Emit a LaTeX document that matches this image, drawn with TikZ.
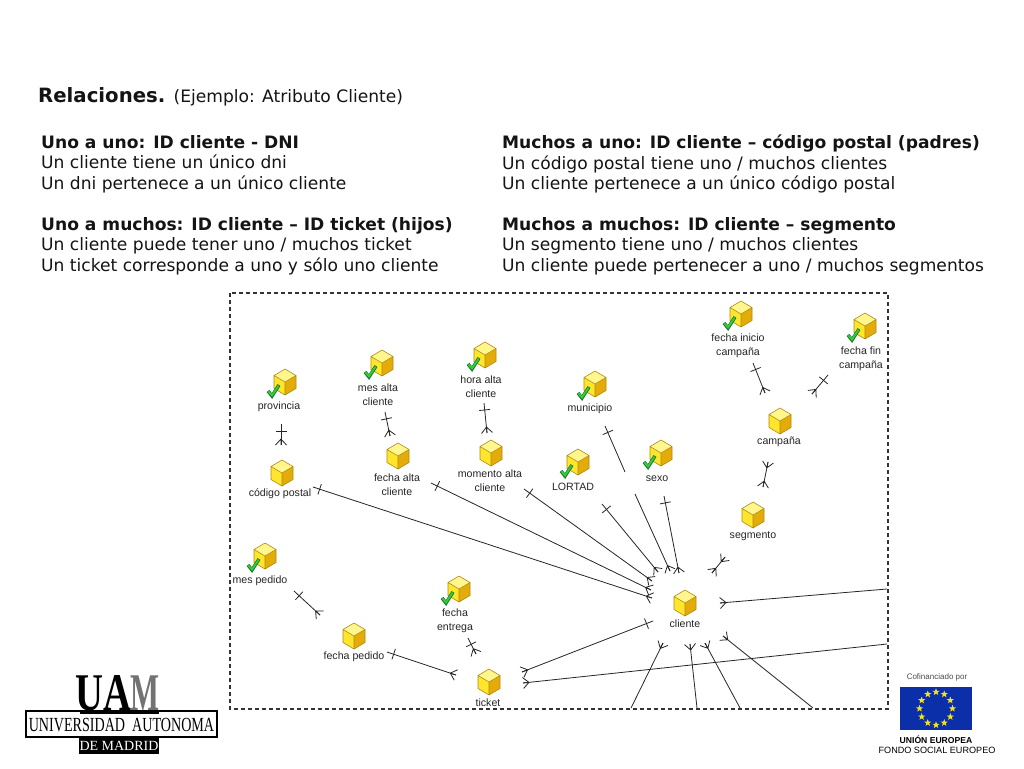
\documentclass[tikz,border=0pt]{standalone}
\usepackage{fontspec}
\setmainfont{DejaVu Sans}
\newfontfamily\iconfont{Liberation Sans}
\newfontfamily\logofont{Liberation Serif}
\usepackage{xcolor}
\usepackage{tikz}
\usetikzlibrary{calc,shapes.geometric}
\definecolor{inkb}{HTML}{141414}
\definecolor{cubetop}{HTML}{FFF78E}
\definecolor{cubeleft}{HTML}{FFE52B}
\definecolor{cuberight}{HTML}{E3AC0A}
\definecolor{cubeedge}{HTML}{B08A10}
\definecolor{chkgreen}{HTML}{3CC83C}
\definecolor{chkdark}{HTML}{127A2A}
\definecolor{eublue}{HTML}{0A2FA8}
\definecolor{euyellow}{HTML}{F7E11E}
\tikzset{
  txtblock/.style={anchor=north west, inner sep=0pt, align=left, text=inkb,
    font=\fontsize{17.1}{20.5}\selectfont},
  attr/.style={inner sep=0pt, align=center, text=black!85, yshift=-1pt,
    font=\iconfont\fontsize{10.6}{13.8}\selectfont},
  relstroke/.style={black!85, line width=0.8pt},
  cube/.pic={
    \fill[cubeleft] (-11,-6.5) -- (0,0) -- (0,13) -- (-11,6.5) -- cycle;
    \fill[cuberight] (11,-6.5) -- (0,0) -- (0,13) -- (11,6.5) -- cycle;
    \fill[cubetop] (0,-13) -- (11,-6.5) -- (0,0) -- (-11,-6.5) -- cycle;
    \draw[cubeedge, line width=0.6pt, line join=round] (0,-13) -- (11,-6.5) -- (11,6.5) -- (0,13)
      -- (-11,6.5) -- (-11,-6.5) -- cycle (-11,-6.5) -- (0,0) -- (11,-6.5) (0,0) -- (0,13);
  },
  cubechk/.pic={
    \pic {cube};
    \draw[chkdark, line width=3.4pt] (-17,9) -- (-13,14) -- (-6,3);
    \draw[chkgreen, line width=1.9pt] (-16.6,9.4) -- (-13,13.4) -- (-6.4,3.6);
  }
}
\newcommand{\relline}[2]{\draw[relstroke] (#1) -- (#2);}
\newcommand{\reltick}[2]{\draw[relstroke] ($(#1)!7pt!(#2)!5.5pt!90:(#2)$) -- ($(#1)!7pt!(#2)!5.5pt!-90:(#2)$);}
\newcommand{\relfoot}[2]{\draw[relstroke] ($(#2)!6pt!(#1)$) -- ($(#2)!5.5pt!90:(#1)$)
  ($(#2)!6pt!(#1)$) -- ($(#2)!5.5pt!-90:(#1)$) ($(#2)!6pt!(#1)$) -- (#2);}
\begin{document}
\begin{tikzpicture}[x=1pt, y=-1pt]
  \useasboundingbox (0,0) rectangle (1024,768);
  \fill[white] (0,0) rectangle (1024,768);

  % texts
  \node[anchor=base west, inner sep=0pt, text=inkb, font=\fontsize{17.1}{20}\selectfont] (title) at (38,102)
    {\fontsize{19.7}{20}\selectfont\textbf{Relaciones.} \fontsize{17.1}{20}\selectfont(Ejemplo: Atributo Cliente)};
  \node[txtblock] (unouno) at (41,135) {\textbf{Uno a uno: ID cliente - DNI}\\Un cliente tiene un único dni\\Un dni pertenece a un único cliente};
  \node[txtblock] (unomuchos) at (41,217) {\textbf{Uno a muchos: ID cliente – ID ticket (hijos)}\\Un cliente puede tener uno / muchos ticket\\Un ticket corresponde a uno y sólo uno cliente};
  \node[txtblock] (muchosuno) at (502,135) {\textbf{Muchos a uno: ID cliente – código postal (padres)}\\Un código postal tiene uno / muchos clientes\\Un cliente pertenece a un único código postal};
  \node[txtblock] (muchosmuchos) at (502,217) {\textbf{Muchos a muchos: ID cliente – segmento}\\Un segmento tiene uno / muchos clientes\\Un cliente puede pertenecer a uno / muchos segmentos};

  % frame
  \draw[black!80, line width=1.1pt, dash pattern=on 4pt off 3pt] (230,293) rectangle (888,709);

  % cubes
  \foreach \x/\y in {282/473,398/456,491/453,780/421,753/515,685/603,354/636,489/682}
    \pic at (\x,\y) {cube};
  \foreach \x/\y in {285/382,382/363,485/355,741/314,865/326,595/384,661/453,578/462,265/556,459/589}
    \pic at (\x,\y) {cubechk};

  % labels
  \node[attr] (provincia) at (279,406) {provincia};
  \node[attr] (codpostal) at (280,493) {código postal};
  \node[attr] (mesalta) at (378,394) {mes alta\\cliente};
  \node[attr] (fechaalta) at (397,484) {fecha alta\\cliente};
  \node[attr] (horaalta) at (481,386) {hora alta\\cliente};
  \node[attr] (momento) at (490,480) {momento alta\\cliente};
  \node[attr] (inicio) at (738,345) {fecha inicio\\campaña};
  \node[attr] (fin) at (861,358) {fecha fin\\campaña};
  \node[attr] (municipio) at (590,408) {municipio};
  \node[attr] (campana) at (779,441) {campaña};
  \node[attr] (sexo) at (657,478) {sexo};
  \node[attr] (lortad) at (573,486) {LORTAD};
  \node[attr] (segmento) at (753,535) {segmento};
  \node[attr] (cliente) at (685,623) {cliente};
  \node[attr] (mespedido) at (260,580) {mes pedido};
  \node[attr] (fechapedido) at (354,656) {fecha pedido};
  \node[attr] (entrega) at (455,620) {fecha\\entrega};
  \node[attr] (ticket) at (488,702) {ticket};

  % connector ends
  \foreach \nm/\x/\y in {pa/281/424,pb/281/445,ma/385/412,mb/390/436,ha/484/403,hb/487/433,
      ca/313/487,cb/652/598,fa/431/483,fb/651/590,oa/524/489,ob/652/581,la/602/504,lb/658/572,
      ua/605/426,ub/625/472,uc/635/494,ud/670/571,sa/664/496,sb/679/573,ga/725/557,gb/712/573,
      ka/768/462,kb/763/487,ia/753/363,ib/765/393,na/828/375,nb/812/394,
      ra/887/589,rb/720/603,xa/887/644,xb/523/683,ta/653/621,tb/522/672,
      d1/631/708,e1/663/643,d2/697/708,e2/690/644,d3/740/708,e3/705/643,d4/813/708,e4/723/636,
      va/294/591,vb/320/615,wa/387/652,wb/456/675,ya/468/638,yb/476/654}
    \coordinate (\nm) at (\x,\y);

  % tick at first end, foot at second
  \foreach \a/\b in {pa/pb,ma/mb,ha/hb,ca/cb,fa/fb,oa/ob,la/lb,sa/sb,ia/ib,na/nb,ta/tb,va/vb,wa/wb,ya/yb}{
    \relline{\a}{\b} \reltick{\a}{\b} \relfoot{\a}{\b}
  }
  % foot at both ends
  \foreach \a/\b in {ga/gb,ka/kb}{
    \relline{\a}{\b} \relfoot{\a}{\b} \relfoot{\b}{\a}
  }
  % free end on the frame
  \foreach \a/\b in {uc/ud,ra/rb,xa/xb,d1/e1,d2/e2,d3/e3,d4/e4}{
    \relline{\a}{\b} \relfoot{\a}{\b}
  }
  \relline{ua}{ub} \reltick{ua}{ub}

  % UAM logo
  \node[inner sep=0pt, anchor=base east, font=\logofont\bfseries\fontsize{53}{53}\selectfont] (uamua) at (132,710) {\scalebox{0.73}[1]{UA}};
  \node[inner sep=0pt, anchor=base west, text=black!55, font=\logofont\bfseries\fontsize{53}{53}\selectfont] (uamm) at (130,710) {\scalebox{0.58}[1]{M}};
  \draw[line width=1.5pt, fill=white] (26,711) rectangle (217,737);
  \fill[black] (80,710) rectangle (159,714);
  \node[inner sep=0pt, font=\logofont\fontsize{20}{20}\selectfont] (uamname) at (121.5,725.5) {\scalebox{0.705}[1]{UNIVERSIDAD\ \ AUTONOMA}};
  \node[fill=black, text=white, inner sep=0pt, minimum width=80pt, minimum height=17pt, font=\logofont\fontsize{14}{14}\selectfont] (uamde) at (119,745.5) {DE MADRID};

  % EU logo
  \node[inner sep=0pt, text=black!70, font=\iconfont\fontsize{8}{8}\selectfont] (cofin) at (937,677) {Cofinanciado por};
  \node[fill=eublue, inner sep=0pt, minimum width=72pt, minimum height=43pt] (euflag) at (936,708.5) {};
  \foreach \a in {0,30,...,330}
    \node[star, star points=5, star point ratio=2.4, fill=euyellow, inner sep=0pt, minimum size=7.5pt] (eustar\a) at ($(euflag)+(\a:16.5)$) {};
  \node[inner sep=0pt, font=\iconfont\bfseries\fontsize{8.6}{10}\selectfont] (euname) at (936,740) {UNIÓN EUROPEA};
  \node[inner sep=0pt, font=\iconfont\fontsize{9.1}{10}\selectfont] (eufondo) at (937,750) {FONDO SOCIAL EUROPEO};
\end{tikzpicture}
\end{document}
